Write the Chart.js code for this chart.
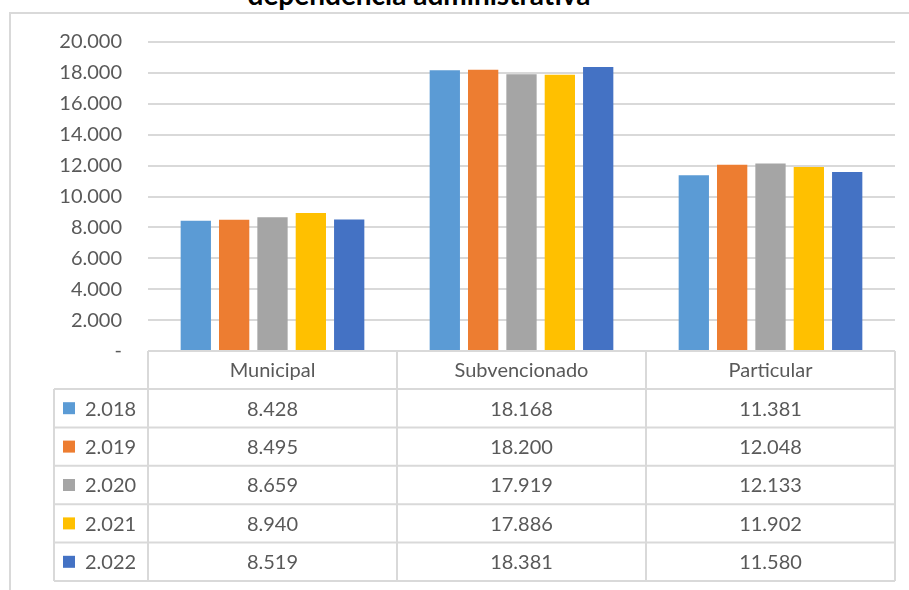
<!DOCTYPE html>
<html>
<head>
<meta charset="utf-8">
<script src="https://cdn.jsdelivr.net/npm/chart.js@4"></script>
<style>
    html, body { margin: 0; padding: 0; background: #fff; }
    #wrap { position: relative; width: 909px; height: 590px; overflow: hidden; }
    #frame { position: absolute; left: 9px; top: 12px; width: 920px; height: 600px;
             border-left: 2px solid #d9d9d9; border-top: 2px solid #d9d9d9; }
    #title { position: absolute; left: 0; width: 838px; top: -23px; text-align: center;
             font: bold 28px Lato, sans-serif; color: #000; white-space: nowrap; }
    canvas { position: absolute; left: 0; top: 0; }
</style>
</head>
<body>
<div id="wrap">
    <div id="frame"></div>
    <div id="title">dependencia administrativa</div>
    <canvas id="chart" width="909" height="590"></canvas>
</div>
<script>
var categories = ['Municipal', 'Subvencionado', 'Particular'];
var years = ['2.018', '2.019', '2.020', '2.021', '2.022'];
var v2018 = [8428, 18168, 11381];
var v2019 = [8495, 18200, 12048];
var v2020 = [8659, 17919, 12133];
var v2021 = [8940, 17886, 11902];
var v2022 = [8519, 18381, 11580];
var colors = ['#5b9bd5', '#ed7d31', '#a5a5a5', '#ffc000', '#4472c4'];

var seriesValues = [v2018, v2019, v2020, v2021, v2022];
var textColor = '#595959';
var lineColor = '#d9d9d9';
var fontFamily = 'Lato, sans-serif';

function fmt(n) {
    if (n === 0) return '-';
    return String(n).replace(/\B(?=(\d{3})+(?!\d))/g, '.');
}

// tabla de datos bajo el grafico (como en Excel)
var dataTable = {
    id: 'dataTable',
    afterDraw: function (chart) {
        var ctx = chart.ctx;
        var area = chart.chartArea;
        var x = chart.scales.x;
        var headH = 38, rowH = 38.4, legendLeft = 54;
        var colW = (area.right - area.left) / categories.length;
        var top = area.bottom;
        var tableBottom = top + headH + rowH * years.length;

        ctx.save();
        ctx.strokeStyle = lineColor;
        ctx.lineWidth = 2;
        ctx.beginPath();
        // header
        ctx.moveTo(area.left, top); ctx.lineTo(area.right, top);
        for (var r = 0; r <= years.length; r++) {
            var yy = top + headH + r * rowH;
            ctx.moveTo(legendLeft, yy); ctx.lineTo(area.right, yy);
        }
        ctx.moveTo(legendLeft, top + headH); ctx.lineTo(legendLeft, tableBottom);
        for (var c = 0; c <= categories.length; c++) {
            var xx = area.left + c * colW;
            ctx.moveTo(xx, top); ctx.lineTo(xx, tableBottom);
        }
        ctx.stroke();

        ctx.font = '20px ' + fontFamily;
        ctx.fillStyle = textColor;
        ctx.textBaseline = 'middle';
        ctx.textAlign = 'center';
        categories.forEach(function (cat, i) {
            ctx.fillText(cat, x.getPixelForValue(i), top + headH / 2 + 1);
        });
        years.forEach(function (yr, r) {
            var cy = top + headH + r * rowH + rowH / 2 + 1;
            ctx.fillStyle = colors[r];
            ctx.fillRect(63, cy - 7, 12, 12);
            ctx.fillStyle = textColor;
            ctx.textAlign = 'left';
            ctx.fillText(yr, 85, cy);
            ctx.textAlign = 'center';
            seriesValues[r].forEach(function (v, i) {
                ctx.fillText(fmt(v), x.getPixelForValue(i), cy);
            });
        });
        ctx.restore();
    }
};

new Chart(document.getElementById('chart'), {
    type: 'bar',
    data: {
        labels: categories,
        datasets: years.map(function (yr, i) {
            return {
                label: yr,
                data: seriesValues[i],
                backgroundColor: colors[i],
                categoryPercentage: 0.77,
                barPercentage: 0.79
            };
        })
    },
    options: {
        responsive: false,
        animation: false,
        layout: { padding: { top: 42, right: 14, bottom: 239, left: 0 } },
        plugins: {
            legend: { display: false },
            tooltip: { enabled: false },
            title: { display: false }
        },
        scales: {
            x: { display: false },
            y: {
                min: 0,
                max: 20000,
                ticks: {
                    stepSize: 2000,
                    padding: 26,
                    color: textColor,
                    font: { family: fontFamily, size: 20 },
                    callback: function (v) { return fmt(v); }
                },
                grid: { color: lineColor, lineWidth: 2, drawTicks: false },
                border: { display: false },
                afterFit: function (scale) { scale.width = 148; }
            }
        }
    },
    plugins: [dataTable]
});
</script>
</body>
</html>
